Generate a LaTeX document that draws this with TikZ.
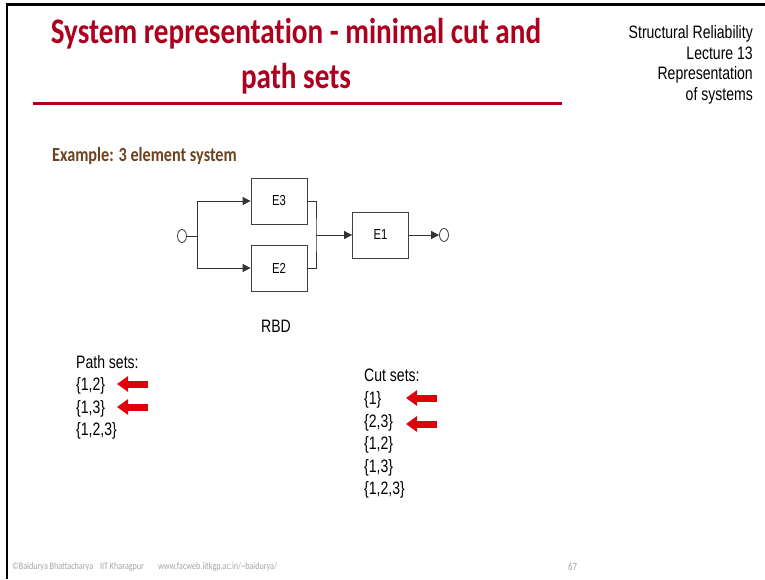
\documentclass[tikz,border=0pt]{standalone}
\usepackage{fontspec}
\setmainfont{Liberation Sans}[FakeStretch=0.78]
\newfontfamily\titlefont{Carlito}[FakeStretch=0.81, RawFeature=-liga]
\usetikzlibrary{arrows.meta,shapes.geometric}
\definecolor{titlered}{RGB}{172,0,30}
\definecolor{exbrown}{RGB}{110,66,30}
\definecolor{arrred}{RGB}{222,0,10}
\definecolor{footgray}{RGB}{165,165,165}
\tikzset{
  blk/.style={draw=black!75, line width=0.8pt, minimum width=56pt, minimum height=46pt, inner sep=0pt, font=\fontsize{14.5}{16}\selectfont},
  term/.style={draw=black!75, line width=0.8pt, ellipse, minimum width=9pt, minimum height=13pt, inner sep=0pt},
  wire/.style={draw=black!80, line width=0.9pt},
  warr/.style={wire, -{Triangle[length=8pt,width=8pt]}},
  redarr/.style={draw=arrred, line width=7pt, -{Triangle[length=11pt,width=15pt]}},
  setlbl/.style={anchor=base west, inner sep=0pt, font=\fontsize{18}{20}\selectfont},
  hdr/.style={anchor=base east, inner sep=0pt, font=\fontsize{18}{20}\selectfont},
}
\begin{document}
\begin{tikzpicture}[x=1pt,y=-1pt]
\useasboundingbox[fill=white] (0,0) rectangle (765,579);
% frame
\draw[line width=2.6pt] (765,4.5) -- (7,4.5) -- (7,579);
% title
\node[inner sep=0pt, anchor=base, text=titlered, font=\titlefont\bfseries\fontsize{36}{40}\selectfont] (t1) at (296,43) {System representation - minimal cut and};
\node[inner sep=0pt, anchor=base, text=titlered, font=\titlefont\bfseries\fontsize{36}{40}\selectfont] (t2) at (296,88) {path sets};
\draw[titlered, line width=3pt] (33,103) -- (562,103);
% header right
\node[hdr] (h1) at (753,38) {Structural Reliability};
\node[hdr] (h2) at (753,59) {Lecture 13};
\node[hdr] (h3) at (753,79) {Representation};
\node[hdr] (h4) at (753,100) {of systems};
% example
\node[anchor=base west, inner sep=0pt, text=exbrown, font=\titlefont\bfseries\fontsize{20}{22}\selectfont] (ex) at (52,161) {Example: 3 element system};
% RBD
\node[term] (in) at (182,236) {};
\node[blk] (e3) at (279,201) {E3};
\node[blk] (e2) at (279,268) {E2};
\node[blk] (e1) at (380.5,235) {E1};
\node[term] (out) at (444,235) {};
\coordinate (sp) at (197,236);
\coordinate (jn) at (316,235);
\draw[wire] (in.east) -- (sp);
\draw[warr] (sp) |- (e3.west);
\draw[warr] (sp) |- (e2.west);
\draw[wire] (e3.east) -| (jn) |- (e2.east);
\draw[warr] (jn) -- (e1.west);
\draw[warr] (e1.east) -- (out.west);
\node[anchor=base, inner sep=0pt, font=\fontsize{18}{20}\selectfont] (rbd) at (276,332) {RBD};
% path sets
\node[setlbl] (ps) at (76,368) {Path sets:};
\node[setlbl] (p1) at (76,390) {\{1,2\}};
\node[setlbl] (p2) at (76,413) {\{1,3\}};
\node[setlbl] (p3) at (76,435) {\{1,2,3\}};
\coordinate (pa1s) at (148,384); \coordinate (pa1e) at (117,384);
\coordinate (pa2s) at (148,407); \coordinate (pa2e) at (117,407);
\draw[redarr] (pa1s) -- (pa1e);
\draw[redarr] (pa2s) -- (pa2e);
% cut sets
\node[setlbl] (cs) at (364,381) {Cut sets:};
\node[setlbl] (c1) at (364,404) {\{1\}};
\node[setlbl] (c2) at (364,427) {\{2,3\}};
\node[setlbl] (c3) at (364,449) {\{1,2\}};
\node[setlbl] (c4) at (364,472) {\{1,3\}};
\node[setlbl] (c5) at (364,494) {\{1,2,3\}};
\coordinate (ca1s) at (437,398); \coordinate (ca1e) at (406,398);
\coordinate (ca2s) at (437,424); \coordinate (ca2e) at (406,424);
\draw[redarr] (ca1s) -- (ca1e);
\draw[redarr] (ca2s) -- (ca2e);
% footer
\node[anchor=base west, inner sep=0pt, text=footgray, font=\titlefont\fontsize{10}{11}\selectfont] (ft) at (12,569) {©Baidurya Bhattacharya\hspace{7pt}IIT Kharagpur\hspace{14pt}www.facweb.iitkgp.ac.in/\textasciitilde baidurya/};
\node[anchor=base west, inner sep=0pt, text=footgray, font=\titlefont\fontsize{11}{12}\selectfont] (pg) at (568,570) {67};
\end{tikzpicture}
\end{document}
